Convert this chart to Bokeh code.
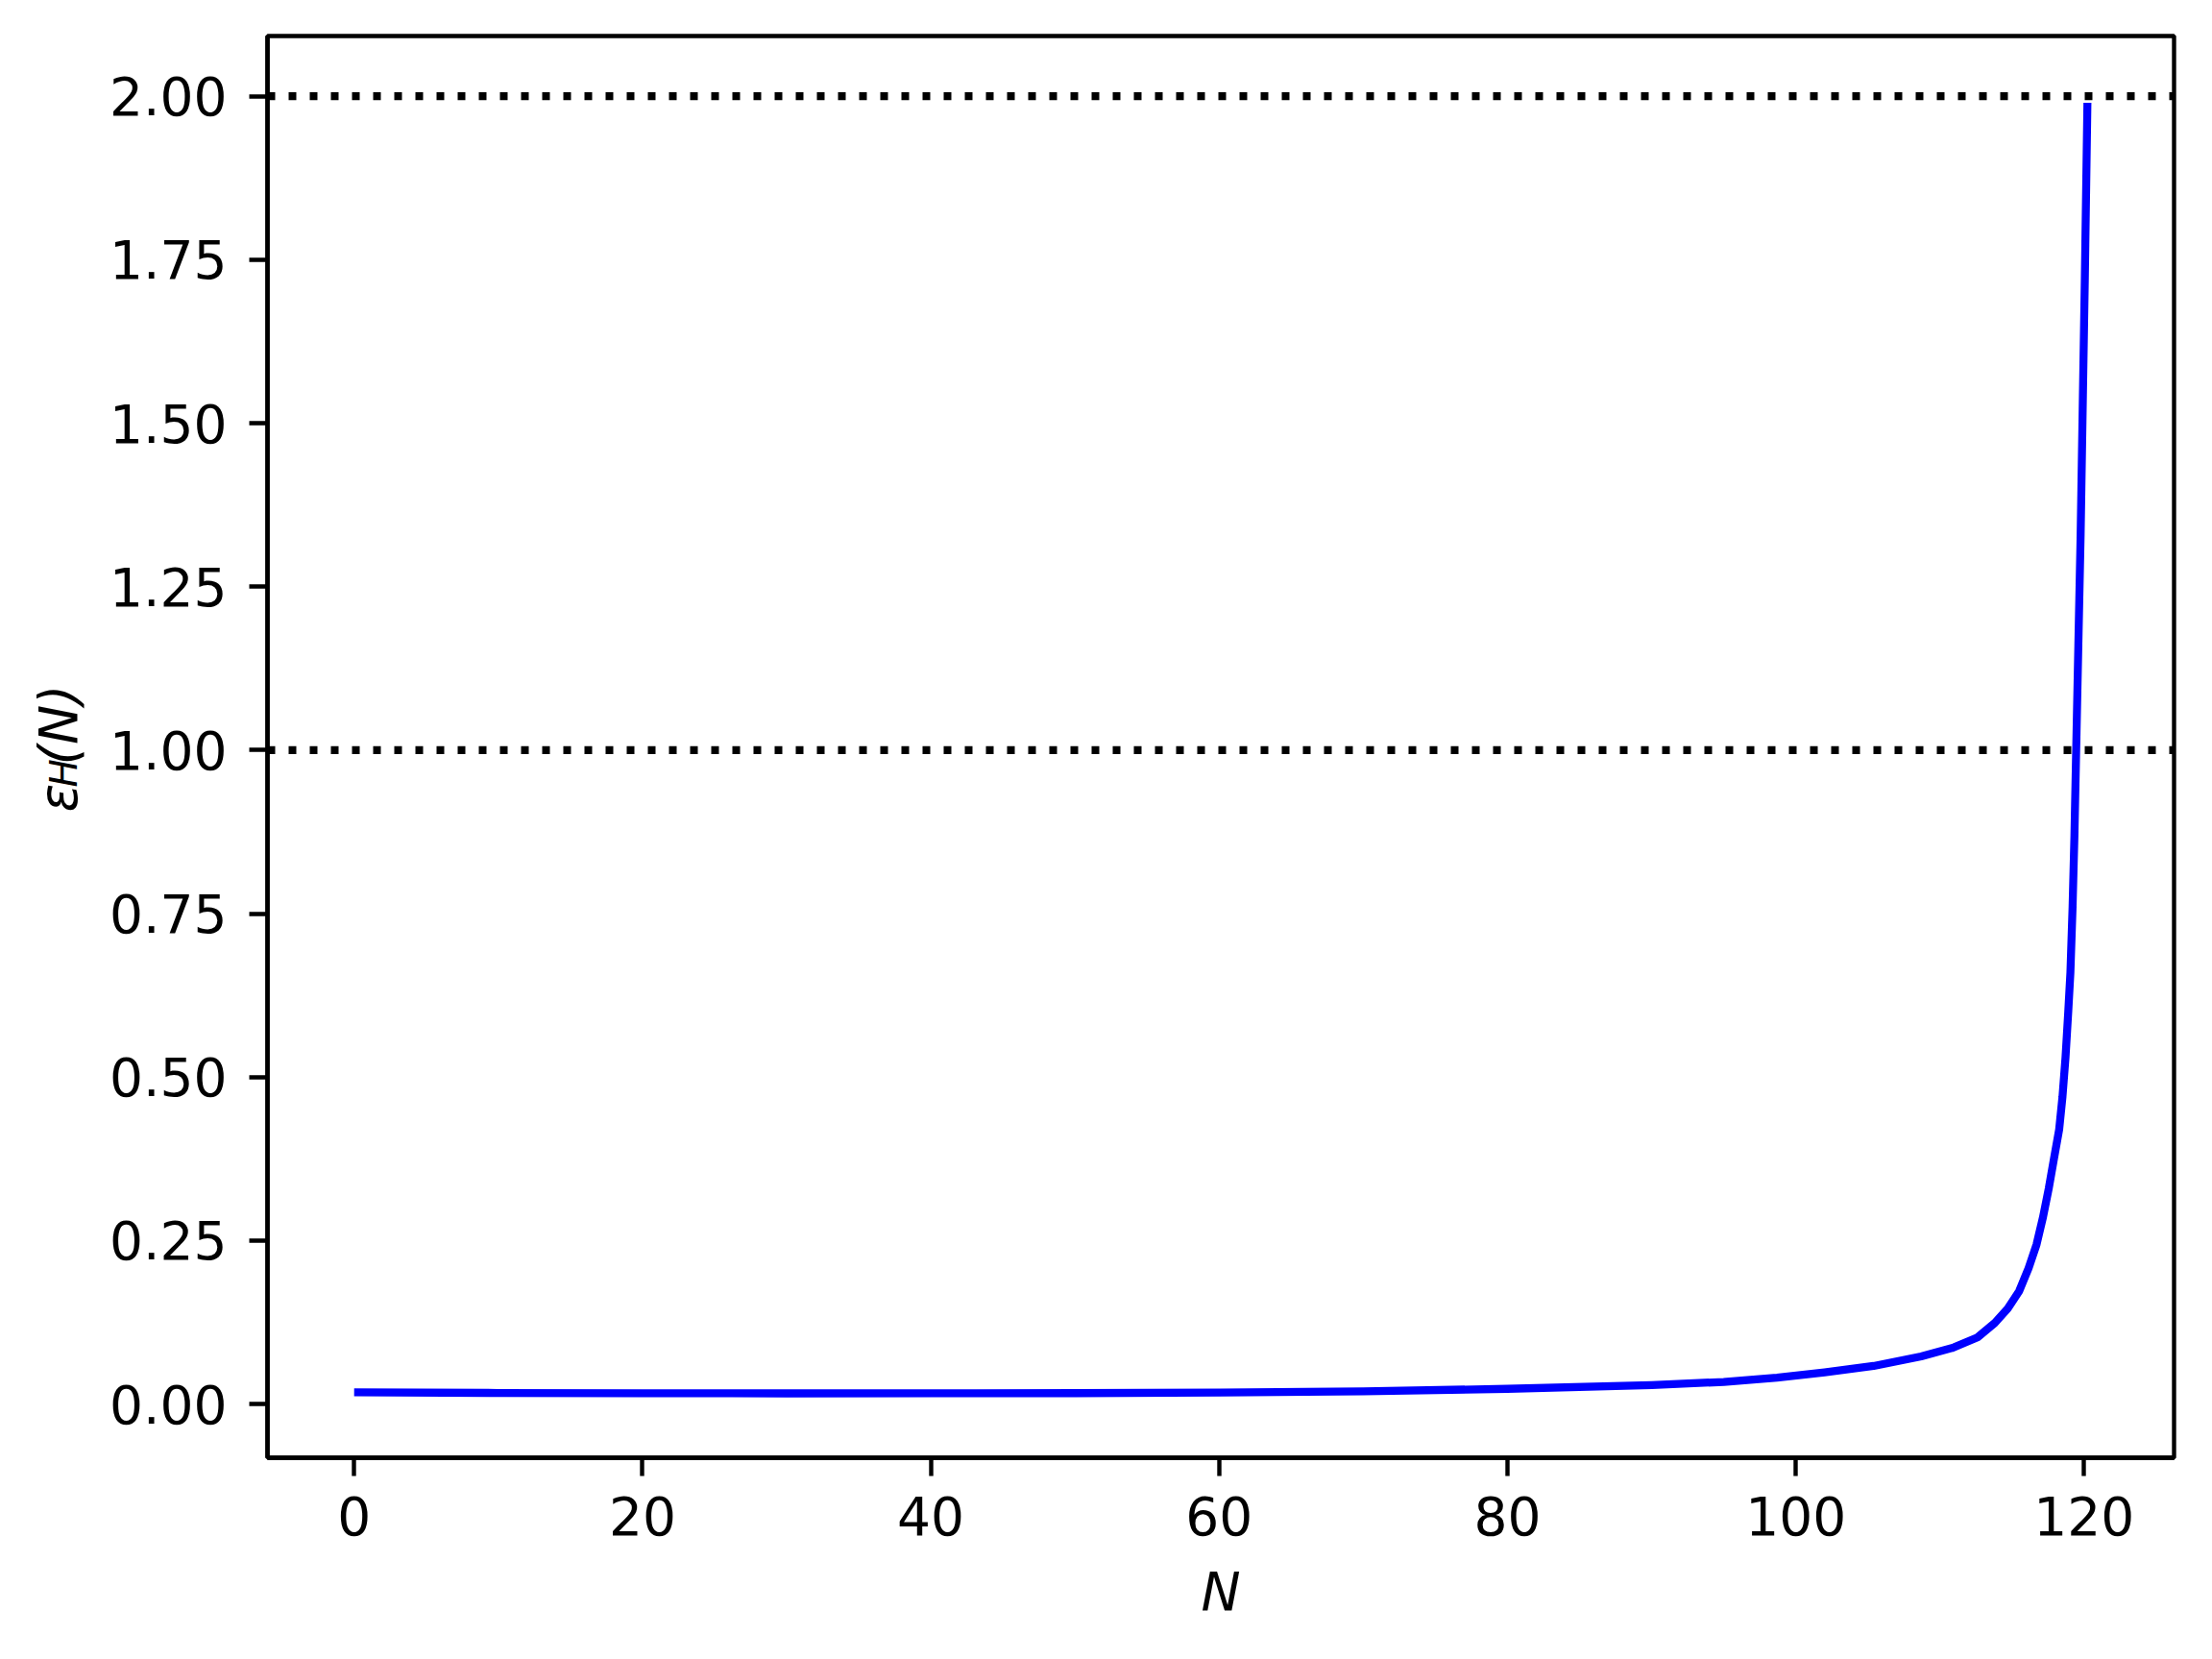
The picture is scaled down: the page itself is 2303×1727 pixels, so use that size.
import numpy as np
from bokeh.plotting import figure
from bokeh.layouts import row
from bokeh.models import Range1d, FixedTicker, Span
from bokeh.embed import file_html
from bokeh.resources import INLINE
from bokeh.core.properties import value

# ---------------- data ----------------
N_vals = [0, 10, 20, 30, 40, 50, 60, 70, 80, 90, 95, 98.7, 102.0, 105.4,
          108.7, 110.9, 112.6, 113.8, 114.7, 115.5, 116.15, 116.7, 117.15,
          117.55, 117.9, 118.27, 118.5, 118.71, 118.9, 119.05, 119.2, 119.33,
          119.45, 119.6, 119.76, 119.9, 120.05, 120.23]
eps_vals = [0.0180, 0.0171, 0.0166, 0.0164, 0.0165, 0.0168, 0.0176, 0.0196,
            0.0234, 0.0290, 0.0340, 0.0405, 0.0486, 0.0583, 0.0730, 0.0862,
            0.1020, 0.1240, 0.1460, 0.1730, 0.2080, 0.2440, 0.2860, 0.3300,
            0.3740, 0.4200, 0.4700, 0.5300, 0.6000, 0.6600, 0.7600, 0.8700,
            1.0000, 1.1600, 1.3300, 1.5200, 1.7200, 1.9900]
hline_levels = [1.0, 2.0]
x_ticks = [0, 20, 40, 60, 80, 100, 120]
x_tick_labels = ["0", "20", "40", "60", "80", "100", "120"]
y_ticks = [0.0, 0.25, 0.5, 0.75, 1.0, 1.25, 1.5, 1.75, 2.0]
y_tick_labels = ["0.00", "0.25", "0.50", "0.75", "1.00", "1.25", "1.50", "1.75", "2.00"]
x_label = "N"
y_label_parts = ["ε", "H", "(N)"]

# ---------------- layout ----------------
XMIN, XMAX = -6.01, 126.24
YMIN, YMAX = -0.082, 2.092
FL, FT, FW, FH = 278, 37, 1985, 1480   # frame position in canvas pixels
FB = 190                                # space below frame
TOTAL_H = FT + FH + FB
LW = 110                                # width of the strip holding the y label
FONT = "DejaVu Sans"
FS = "55px"

p = figure(frame_width=FW, frame_height=FH,
           x_range=Range1d(XMIN, XMAX), y_range=Range1d(YMIN, YMAX),
           output_backend="svg", toolbar_location=None,
           min_border_left=FL - LW, min_border_top=FT,
           min_border_right=24, min_border_bottom=FB)
p.background_fill_color = "white"
p.border_fill_color = "white"
p.grid.visible = False
p.outline_line_color = "black"
p.outline_line_width = 4.4

for ax in (p.xaxis[0], p.yaxis[0]):
    ax.axis_line_width = 4.4
    ax.axis_line_color = "black"
    ax.major_tick_line_width = 4.4
    ax.major_tick_line_color = "black"
    ax.major_tick_out = 19
    ax.major_tick_in = 0
    ax.minor_tick_line_color = None
    ax.major_label_text_font = FONT
    ax.major_label_text_font_size = FS
    ax.major_label_text_color = "black"

p.xaxis.ticker = FixedTicker(ticks=x_ticks)
p.xaxis.major_label_overrides = {t: l for t, l in zip(x_ticks, x_tick_labels)}
p.yaxis.ticker = FixedTicker(ticks=y_ticks)
p.yaxis.major_label_overrides = {t: l for t, l in zip(y_ticks, y_tick_labels)}
p.xaxis.major_label_standoff = 21
p.yaxis.major_label_standoff = 23

p.xaxis.axis_label = x_label
p.xaxis.axis_label_text_font = FONT
p.xaxis.axis_label_text_font_size = FS
p.xaxis.axis_label_text_font_style = "italic"
p.xaxis.axis_label_text_color = "black"
p.xaxis.axis_label_standoff = 24

# curve
p.line(N_vals, eps_vals, line_color="#0000ff", line_width=8.3,
       line_join="round")

# dotted reference lines
for lv in hline_levels:
    p.add_layout(Span(location=lv, dimension="width", line_color="black",
                      line_width=8.3, line_dash="8 14"))

# ---------------- y-axis label strip (epsilon with subscript H) ----------------
lab = figure(frame_width=LW, frame_height=TOTAL_H,
             x_range=Range1d(0, LW), y_range=Range1d(0, TOTAL_H),
             x_axis_type=None, y_axis_type=None,
             output_backend="svg", toolbar_location=None,
             min_border_left=0, min_border_right=0,
             min_border_top=0, min_border_bottom=0)
lab.outline_line_color = None
lab.grid.visible = False
lab.background_fill_color = "white"
lab.border_fill_color = "white"

# (text, canvas x, canvas y, font size) -- positions in strip pixels
pieces = [
    (y_label_parts[0], 60, 808, "55px"),
    (y_label_parts[1], 66, 782, "39px"),
    (y_label_parts[2], 60, 759, "55px"),
]
for txt, cx, cy, fs in pieces:
    lab.text(x=[cx], y=[TOTAL_H - cy], text=[txt], angle=np.pi / 2,
             text_font=value(FONT), text_font_size=value(fs),
             text_font_style="italic", text_color="black",
             text_align="left", text_baseline="alphabetic")

layout = row(lab, p, spacing=0)
open("out.html", "w").write(file_html(layout, INLINE))
